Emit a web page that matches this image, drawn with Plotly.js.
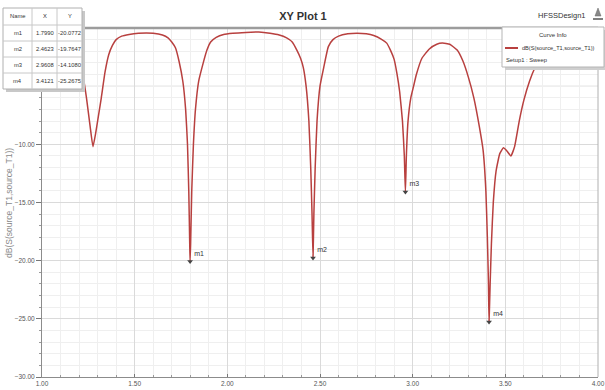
<!DOCTYPE html>
<html><head><meta charset="utf-8">
<script src="https://cdn.plot.ly/plotly-3.0.1.min.js"></script>
<style>html,body{margin:0;padding:0;background:#fff}#plot{width:605px;height:390px}</style>
</head><body><div id="plot"></div>
<script>
// ---- data ----
const curveX = [1.00,1.05,1.10,1.14,1.17,1.20,1.22,1.24,1.26,1.275,1.29,1.30,1.32,1.34,1.36,1.38,1.40,1.43,1.47,1.52,1.60,1.65,1.68,1.70,1.72,1.74,1.76,1.775,1.785,1.792,1.797,1.799,1.802,1.808,1.817,1.828,1.845,1.87,1.89,1.91,1.94,1.98,2.03,2.10,2.17,2.23,2.28,2.32,2.35,2.375,2.395,2.41,2.425,2.44,2.45,2.457,2.4623,2.467,2.474,2.484,2.50,2.52,2.545,2.57,2.60,2.65,2.70,2.75,2.79,2.83,2.86,2.88,2.90,2.915,2.93,2.945,2.955,2.9608,2.966,2.975,2.99,3.005,3.02,3.05,3.09,3.13,3.16,3.20,3.24,3.27,3.30,3.33,3.36,3.38,3.395,3.403,3.409,3.4121,3.418,3.425,3.435,3.45,3.47,3.49,3.51,3.53,3.55,3.575,3.60,3.63,3.66,3.70,3.75,3.80,3.90,4.00];
const curveY = [-0.9,-1.1,-1.4,-1.8,-2.2,-2.7,-4.0,-6.0,-8.5,-10.2,-9.0,-8.0,-6.0,-3.8,-2.3,-1.5,-1.0,-0.7,-0.55,-0.45,-0.45,-0.6,-0.85,-1.2,-1.7,-2.9,-4.6,-7.0,-10.0,-14.0,-18.5,-20.08,-18.5,-14.0,-10.0,-7.0,-4.6,-3.0,-1.9,-1.2,-0.8,-0.55,-0.45,-0.38,-0.35,-0.45,-0.6,-0.85,-1.2,-1.9,-2.6,-3.4,-5.0,-8.0,-12.0,-16.0,-19.76,-16.0,-12.0,-8.0,-5.0,-3.4,-1.6,-1.0,-0.7,-0.5,-0.45,-0.5,-0.65,-0.95,-1.3,-1.9,-2.7,-3.9,-5.5,-8.0,-11.0,-14.11,-11.0,-8.0,-6.0,-5.0,-4.0,-2.6,-1.8,-1.4,-1.3,-1.4,-1.9,-2.8,-4.2,-6.0,-8.5,-10.5,-14.0,-18.0,-22.0,-25.27,-22.0,-18.5,-15.0,-12.3,-10.8,-10.3,-10.6,-11.0,-10.2,-8.0,-6.2,-4.6,-3.4,-2.2,-1.5,-1.2,-1.0,-0.9];
const markerNames = ['m1','m2','m3','m4'];
const markerX = [1.7990, 2.4623, 2.9608, 3.4121];
const markerY = [-20.0772, -19.7647, -14.1080, -25.2675];
const tableHeader = ['Name','X','Y'];
const yTickVals = [-30, -25, -20, -15, -10];
const xTickVals = [1.0, 1.5, 2.0, 2.5, 3.0, 3.5, 4.0];
const curveName = 'dB(S(source_T1,source_T1))';
const setupName = 'Setup1 : Sweep';
const plotTitle = 'XY Plot 1';
const designName = 'HFSSDesign1';

// ---- layout helpers (pixel -> paper) ----
const W = 605, H = 390, L = 42, R = 7, T = 28, B = 13;
const pw = W - L - R, ph = H - T - B;
const px = v => (v - L) / pw;
const py = v => (H - B - v) / ph;
const FONT = '"Liberation Sans", Arial, sans-serif';

const shapes = [];
const annotations = [];

// hidden major grid line at -5 (its label is covered by the marker table)
shapes.push({type:'line', xref:'paper', yref:'y', x0:0, x1:1, y0:-5, y1:-5, line:{color:'#dadada', width:1}, layer:'below'});
// top frame line
shapes.push({type:'line', xref:'paper', yref:'paper', x0:0, x1:1, y0:1, y1:1, line:{color:'#9c9c9c', width:2.5}, layer:'above'});
// right frame line
shapes.push({type:'line', xref:'paper', yref:'paper', x0:1, x1:1, y0:0, y1:1, line:{color:'#b0b0b0', width:1}, layer:'above'});

// marker table
const colX = [3, 32, 57, 82];
const rowY = [8, 25, 41, 57, 73, 89];
shapes.push({type:'rect', xref:'paper', yref:'paper', x0:px(colX[0]+3), x1:px(colX[3]+3), y0:py(rowY[0]+3), y1:py(rowY[5]+3), fillcolor:'#c8c8c8', line:{width:0}, layer:'above'});
shapes.push({type:'rect', xref:'paper', yref:'paper', x0:px(colX[0]), x1:px(colX[3]), y0:py(rowY[0]), y1:py(rowY[5]), fillcolor:'#ffffff', line:{color:'#b0b0b0', width:1}, layer:'above'});
for (let i = 1; i < rowY.length - 1; i++) {
  shapes.push({type:'line', xref:'paper', yref:'paper', x0:px(colX[0]), x1:px(colX[3]), y0:py(rowY[i]), y1:py(rowY[i]), line:{color:'#c8c8c8', width:1}, layer:'above'});
}
for (let j = 1; j < colX.length - 1; j++) {
  shapes.push({type:'line', xref:'paper', yref:'paper', x0:px(colX[j]), x1:px(colX[j]), y0:py(rowY[0]), y1:py(rowY[5]), line:{color:'#c8c8c8', width:1}, layer:'above'});
}
const tableRows = [tableHeader].concat(markerNames.map((n, i) => [n, markerX[i].toFixed(4), markerY[i].toFixed(4)]));
tableRows.forEach((row, r) => {
  row.forEach((txt, c) => {
    annotations.push({xref:'paper', yref:'paper', x:px((colX[c] + colX[c+1]) / 2), y:py((rowY[r] + rowY[r+1]) / 2),
      text:txt, showarrow:false, xanchor:'center', yanchor:'middle',
      font:{family:FONT, size:5.8, color:'#333'}});
  });
});

// curve info box
shapes.push({type:'rect', xref:'paper', yref:'paper', x0:px(505), x1:px(607), y0:py(30), y1:py(70), fillcolor:'#cfcfcf', line:{width:0}, layer:'above'});
shapes.push({type:'rect', xref:'paper', yref:'paper', x0:px(502), x1:px(604), y0:py(27), y1:py(67), fillcolor:'#ffffff', line:{color:'#b5b5b5', width:1}, layer:'above'});
shapes.push({type:'line', xref:'paper', yref:'paper', x0:px(505), x1:px(518), y0:py(48), y1:py(48), line:{color:'#b8403f', width:2}, layer:'above'});
annotations.push({xref:'paper', yref:'paper', x:px(553), y:py(35), text:'Curve Info', showarrow:false, xanchor:'center', yanchor:'middle', font:{family:FONT, size:6, color:'#333'}});
annotations.push({xref:'paper', yref:'paper', x:px(520), y:py(48), text:curveName, showarrow:false, xanchor:'left', yanchor:'middle', font:{family:FONT, size:5.6, color:'#333'}});
annotations.push({xref:'paper', yref:'paper', x:px(504), y:py(60), text:setupName, showarrow:false, xanchor:'left', yanchor:'middle', font:{family:FONT, size:5.8, color:'#333'}});

// design name + logo
annotations.push({xref:'paper', yref:'paper', x:px(588), y:py(15), text:designName, showarrow:false, xanchor:'right', yanchor:'middle', font:{family:FONT, size:7.5, color:'#333'}});
shapes.push({type:'path', xref:'paper', yref:'paper', path:`M ${px(595)} ${py(16)} L ${px(598)} ${py(8)} L ${px(601)} ${py(16)} Z`, fillcolor:'#888', line:{color:'#666', width:0.5}, layer:'above'});
shapes.push({type:'line', xref:'paper', yref:'paper', x0:px(593), x1:px(603), y0:py(19), y1:py(19), line:{color:'#555', width:1.5}, layer:'above'});

// y-axis title as annotation
annotations.push({xref:'paper', yref:'paper', x:px(9), y:py(203), text:curveName, showarrow:false, textangle:-90, xanchor:'center', yanchor:'middle', font:{family:FONT, size:8.5, color:'#8a8a8a'}});

const traces = [
  {x:curveX, y:curveY, type:'scatter', mode:'lines', line:{color:'#b8403f', width:1.5, shape:'spline', smoothing:0.4}, hoverinfo:'skip', showlegend:false},
  {x:markerX, y:markerY, type:'scatter', mode:'markers+text', text:markerNames, textposition:'top right',
   textfont:{family:FONT, size:7, color:'#333'},
   marker:{symbol:'triangle-down', size:5, color:'#444'}, showlegend:false, cliponaxis:false}
];

const layout = {
  width: W, height: H,
  margin: {l:L, r:R, t:T, b:B, pad:0},
  paper_bgcolor:'#ffffff', plot_bgcolor:'#ffffff',
  showlegend:false,
  title: {text: plotTitle, x: 303/W, xanchor:'center', y: 1 - 16/H, yanchor:'middle', yref:'container', xref:'container',
          font:{family:FONT, size:11, color:'#333', weight:'bold'}},
  xaxis: {range:[1,4], tickvals:xTickVals, tickformat:'.2f', showgrid:true, gridcolor:'#dadada', gridwidth:1,
          zeroline:false, showline:true, linecolor:'#8c8c8c', linewidth:1, mirror:false,
          ticks:'inside', ticklen:3, tickcolor:'#777', tickfont:{family:FONT, size:6.5, color:'#555'},
          minor:{dtick:0.1, tick0:1, showgrid:true, gridcolor:'#efefef', ticks:'inside', ticklen:2, tickcolor:'#999'}},
  yaxis: {range:[-30,0], tickvals:yTickVals, tickformat:'.2f', showgrid:true, gridcolor:'#dadada', gridwidth:1,
          zeroline:false, showline:true, linecolor:'#8c8c8c', linewidth:1,
          ticks:'outside', ticklen:5, tickcolor:'#777', tickfont:{family:FONT, size:6.5, color:'#555'},
          minor:{dtick:1, tick0:0, showgrid:true, gridcolor:'#efefef', ticks:'outside', ticklen:2.5, tickcolor:'#999'}},
  shapes: shapes,
  annotations: annotations
};

Plotly.newPlot('plot', traces, layout, {staticPlot:true, displayModeBar:false});
</script>
</body></html>
